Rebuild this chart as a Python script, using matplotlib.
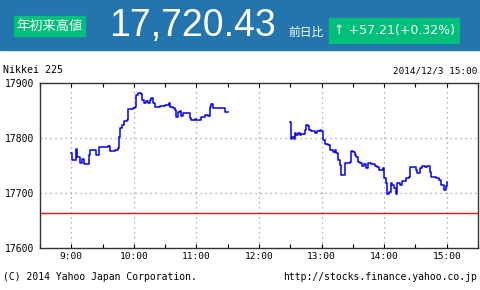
import numpy as np
import matplotlib
matplotlib.use("Agg")
import matplotlib.pyplot as plt
from matplotlib.patches import Rectangle

# minutes after 9:00 / index value, morning session
am_min = [0, 1, 3, 4.2, 5.8, 8, 8.6, 10.5, 11.8, 15, 16.6, 17.6, 22.4, 24, 26.2, 26.5,
          30.4, 35.1, 36.7, 41.5, 44.7, 45.7, 47, 48.9, 50.5, 53.7, 54.3, 59.1, 60.7,
          62.3, 63.9, 67.1, 68, 69.3, 71.9, 73.5, 75.1, 76.7, 78.3, 79.9, 84.7, 89.5,
          93.6, 94.9, 97.4, 99, 100.6, 102.2, 103.8, 105.4, 107, 111.8, 113.4, 115,
          118.2, 119.8, 123, 124.6, 127.8, 131, 132.6, 134.2, 135.8, 139, 142.2, 145.4,
          147, 150]
am_val = [17772, 17760, 17760, 17780, 17766, 17763, 17754, 17761, 17753, 17752, 17769,
          17778, 17778, 17770, 17770, 17783, 17784, 17785, 17777, 17778, 17782, 17802,
          17818, 17824, 17831, 17833, 17852, 17855, 17857, 17878, 17881, 17880, 17869,
          17863, 17868, 17863, 17869, 17872, 17863, 17857, 17858, 17860, 17863, 17857,
          17855, 17851, 17839, 17848, 17850, 17840, 17845, 17845, 17836, 17832, 17834,
          17832, 17833, 17839, 17842, 17840, 17857, 17862, 17854, 17855, 17855, 17854,
          17848, 17847]

# minutes after 12:30, afternoon session
pm_min = [0, 0.3, 1.9, 3.2, 4.5, 5.8, 7.3, 8.9, 10.5, 12.8, 13.7, 15.3, 16.9, 17.9,
          20.1, 23.3, 25.6, 28.1, 29.7, 31.3, 32.9, 36.1, 37.7, 40.9, 42.5, 44.1, 45.7,
          47.3, 48.9, 50.5, 52.1, 54.3, 56.9, 57.8, 60.1, 61.7, 63.3, 64.9, 67.1, 69,
          70.3, 72.2, 74.4, 77.6, 80.8, 83.1, 85, 88.8, 89.8, 91.4, 93, 94.6, 96.2, 97.8,
          99.4, 101, 102.6, 104.8, 106.7, 109, 111.2, 113.7, 115, 117.6, 120.1, 121.7,
          124, 126.5, 128.8, 131, 133.5, 134.5, 136.8, 140, 142.5, 144.7, 147, 148.9, 150.2]
pm_val = [17830, 17799, 17801, 17798, 17809, 17806, 17810, 17806, 17808, 17807, 17815,
          17824, 17821, 17815, 17812, 17810, 17813, 17815, 17812, 17796, 17790, 17787,
          17778, 17775, 17778, 17772, 17760, 17751, 17733, 17733, 17754, 17755, 17757,
          17777, 17775, 17769, 17766, 17757, 17755, 17749, 17753, 17745, 17754, 17753,
          17749, 17748, 17742, 17745, 17727, 17719, 17699, 17702, 17718, 17715, 17709,
          17699, 17718, 17715, 17722, 17721, 17727, 17730, 17748, 17748, 17742, 17737,
          17745, 17749, 17748, 17749, 17739, 17730, 17729, 17727, 17724, 17715, 17706,
          17712, 17720]

prev_close = 17663.22
hour_labels = ["9:00", "10:00", "11:00", "12:00", "13:00", "14:00", "15:00"]
y_ticks = [17600, 17700, 17800, 17900]

mono = "DejaVu Sans Mono"

fig = plt.figure(figsize=(4.8, 2.9), dpi=100)

# header band
fig.patches.append(Rectangle((0, 1 - 50 / 290), 1, 50 / 290, transform=fig.transFigure,
                             color="#2474ae", zorder=0))
fig.patches.append(Rectangle((14 / 480, 1 - 36 / 290), 71 / 480, 20 / 290,
                             transform=fig.transFigure, color="#00c07c", zorder=1))
fig.patches.append(Rectangle((329 / 480, 1 - 43 / 290), 130 / 480, 25 / 290,
                             transform=fig.transFigure, color="#00c07c", zorder=1))
fig.text(49.5 / 480, 1 - 26 / 290, "年初来高値", color="white", fontsize=9.5,
         family=["Noto Sans CJK JP", "DejaVu Sans"], ha="center", va="center")
fig.text(109 / 480, 1 - 26 / 290, "17,720.43", color="white", fontsize=27,
         family="Liberation Sans", ha="left", va="center")
fig.text(306 / 480, 1 - 32 / 290, "前日比", color="white", fontsize=8.5,
         family=["Noto Sans CJK JP", "DejaVu Sans"], ha="center", va="center")
fig.text(394 / 480, 1 - 30.5 / 290, "\u2191 +57.21(+0.32%)", color="white", fontsize=9,
         family=["DejaVu Sans"], ha="center", va="center")

fig.text(3 / 480, 1 - 70 / 290, "Nikkei 225", fontsize=7.2, family=mono, va="center")
fig.text(477 / 480, 1 - 71 / 290, "2014/12/3 15:00", fontsize=6.7, family=mono,
         ha="right", va="center")
fig.text(3 / 480, 1 - 277 / 290, "(C) 2014 Yahoo Japan Corporation.", fontsize=7,
         family=mono, va="center")
fig.text(477 / 480, 1 - 277 / 290, "http://stocks.finance.yahoo.co.jp", fontsize=7,
         family=mono, ha="right", va="center")

ax = fig.add_axes([40 / 480, 1 - 248 / 290, 438 / 480, 165 / 290])
ax.plot(am_min, am_val, color="#0000ff", lw=1.1, drawstyle="steps-post")
ax.plot(np.array(pm_min) + 210, pm_val, color="#0000ff", lw=1.1, drawstyle="steps-post")
ax.axhline(prev_close, color="#e81010", lw=1)

ax.set_xlim(-30, 390)
ax.set_ylim(17600, 17900)
hours = np.arange(0, 361, 60)
ax.set_xticks(hours)
ax.set_xticklabels(hour_labels, family=mono, fontsize=6.8)
ax.set_xticks(np.arange(-30, 391, 30), minor=True)
ax.set_yticks(y_ticks)
ax.set_yticklabels([str(v) for v in y_ticks], family=mono, fontsize=7)
ax.tick_params(axis="x", which="both", direction="in", top=True, length=3, width=0.8,
               pad=3)
ax.tick_params(axis="y", length=0, pad=4)
for h in hours:
    ax.axvline(h, color="#999999", lw=0.9, ls=(0, (1, 3)), zorder=0)
for v in [17700, 17800]:
    ax.axhline(v, color="#999999", lw=0.9, ls=(0, (1, 3)), zorder=0)
for s in ax.spines.values():
    s.set_linewidth(1)
    s.set_color("#333333")

fig.savefig("out.png", dpi=100)
